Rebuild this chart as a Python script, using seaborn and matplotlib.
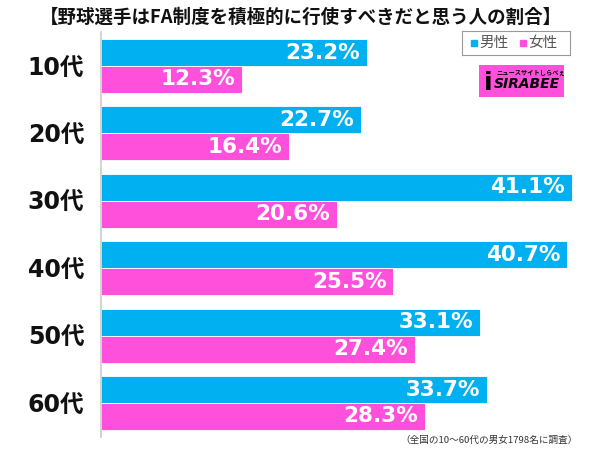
import matplotlib
matplotlib.use("Agg")
import matplotlib.pyplot as plt
import seaborn as sns
import pandas as pd

categories = ["10代", "20代", "30代", "40代", "50代", "60代"]
male = [23.2, 22.7, 41.1, 40.7, 33.1, 33.7]
female = [12.3, 16.4, 20.6, 25.5, 27.4, 28.3]
series = ["男性", "女性"]
title = "【野球選手はFA制度を積極的に行使すべきだと思う人の割合】"
note = "（全国の10〜60代の男女1798名に調査）"

sns.set_theme(style="white")
plt.rcParams['font.family'] = ['Noto Sans CJK JP', 'DejaVu Sans']

df = pd.DataFrame({
    "age": categories * 2,
    "value": male + female,
    "sex": [series[0]] * len(categories) + [series[1]] * len(categories),
})

colors = {"男性": "#00B0F0", "女性": "#FF50DC"}

fig = plt.figure(figsize=(6.0, 4.49), dpi=100)
ax = fig.add_axes([101/600, 1 - 436.7/449, (590-101)/600, (436.7-32.3)/449])
sns.barplot(data=df, y="age", x="value", hue="sex", palette=colors,
            order=categories, hue_order=series, orient="h", width=0.8,
            saturation=1, edgecolor="white", linewidth=0.6, ax=ax, legend=False)

ax.set_xlim(0, 489/11.46)
ax.set_xlabel("")
ax.set_ylabel("")
ax.set_xticks([])
for s in ["top", "right", "bottom"]:
    ax.spines[s].set_visible(False)
ax.spines["left"].set_color("#cccccc")
ax.spines["left"].set_linewidth(1.2)
ax.tick_params(axis="y", length=0, pad=12)
for t in ax.get_yticklabels():
    t.set_fontsize(17)
    t.set_fontweight("bold")
    t.set_color("#111111")
    t.set_family(["DejaVu Sans", "Noto Sans CJK JP"])

for cont in ax.containers:
    labels = [f"{b.get_width():.1f}%" for b in cont]
    ts = ax.bar_label(cont, labels=labels, padding=-5, label_type="edge",
                      color="white", fontsize=15.5, fontweight="bold",
                      family=["DejaVu Sans", "Noto Sans CJK JP"])
    for t in ts:
        t.set_ha("right")
        t.set_va("center")

fig.text(301/600, 1 - 17/449, title, ha="center", va="center",
         fontsize=13.3, fontweight="bold", color="#111111")
fig.text(578/600, 1 - 440/449, note, ha="right", va="center",
         fontsize=6.9, color="#333333")

# legend
from matplotlib.patches import Rectangle
lg_ax = fig.add_axes([462/600, 1 - 55/449, (570-462)/600, 24/449])
lg_ax.set_xlim(0, 108); lg_ax.set_ylim(0, 24)
lg_ax.set_xticks([]); lg_ax.set_yticks([])
for s in lg_ax.spines.values():
    s.set_color("#999999"); s.set_linewidth(0.8)
lg_ax.add_patch(Rectangle((9, 9), 6, 6, color=colors["男性"]))
lg_ax.text(17, 12, series[0], va="center", ha="left", fontsize=10.5, color="#555555")
lg_ax.add_patch(Rectangle((58, 9), 6, 6, color=colors["女性"]))
lg_ax.text(66, 12, series[1], va="center", ha="left", fontsize=10.5, color="#555555")

# logo
logo = fig.add_axes([479/600, 1 - 97/449, (564-479)/600, (97-65)/449])
logo.set_xlim(0, 85); logo.set_ylim(0, 32)
logo.set_xticks([]); logo.set_yticks([])
logo.set_facecolor("#FF50DC")
for s in logo.spines.values():
    s.set_visible(False)
logo.text(48, 13, "SIRABEE", ha="center", va="center", fontsize=10,
          fontweight="bold", fontstyle="italic", color="black", family="DejaVu Sans")
logo.text(52, 24, "ニュースサイトしらべぇ", ha="center", va="center", fontsize=4.5,
          fontweight="bold", color="black")
logo.text(9, 14, "i", ha="center", va="center", fontsize=18,
          fontweight="bold", color="black", family="DejaVu Sans")

fig.savefig("out.png", dpi=100)
